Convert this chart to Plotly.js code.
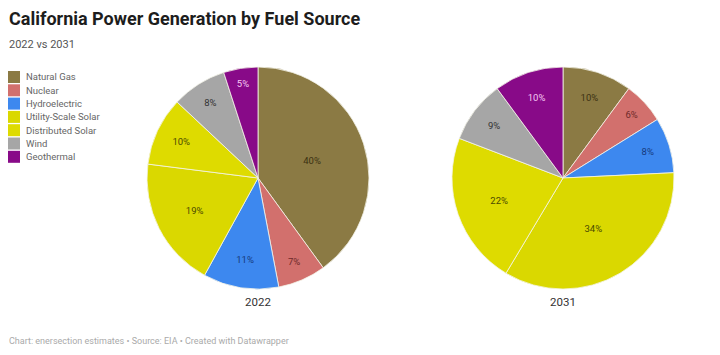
<!DOCTYPE html>
<html>
<head>
<meta charset="utf-8">
<script src="https://cdn.plot.ly/plotly-3.0.1.min.js"></script>
<style>
  html, body { margin: 0; padding: 0; background: #ffffff; }
  #chart { width: 720px; height: 355px; }
</style>
</head>
<body>
<div id="chart"></div>
<script>
// Fuel sources, in drawing order (clockwise from 12 o'clock)
const fuels = ["Natural Gas", "Nuclear", "Hydroelectric", "Utility-Scale Solar", "Distributed Solar", "Wind", "Geothermal"];
// Share of generation, percent
const share2022 = [40, 7, 11, 19, 10, 8, 5];
const share2031 = [10, 6, 8, 34, 22, 9, 10];
const years = ["2022", "2031"];

const fuelColors = ["#8b7a44", "#d2706d", "#3d88ef", "#dad800", "#dedb00", "#a6a6a6", "#880a88"];
const labelColors = ["#3b3112", "#6e2a2a", "#173a7c", "#4b4a00", "#4b4a00", "#333333", "#f4c8f2"];

const W = 720, H = 355;
const px = (x) => x / W;
const py = (y) => 1 - y / H;

// Pie geometry in pixels
const R = 111;
const centers = [[258, 178], [563, 178]];

function pieTrace(values, idx) {
  const [cx, cy] = centers[idx];
  return {
    type: "pie",
    labels: fuels,
    values: values,
    sort: false,
    direction: "clockwise",
    rotation: 0,
    marker: { colors: fuelColors, line: { color: "#f4f4e8", width: 0.8 } },
    texttemplate: "%{value}%",
    textposition: "inside",
    insidetextorientation: "horizontal",
    textfont: { family: "Roboto, sans-serif", size: 9.5, color: labelColors },
    hovertemplate: "%{label}: %{value}%<extra>" + years[idx] + "</extra>",
    showlegend: false,
    domain: { x: [px(cx - R), px(cx + R)], y: [py(cy + R), py(cy - R)] }
  };
}

const data = [pieTrace(share2022, 0), pieTrace(share2031, 1)];

// Legend built from the fuel list
const shapes = [];
const annotations = [];
const legTop = 71, legStep = 13.3, sq = 12;
fuels.forEach((f, i) => {
  const y0 = legTop + i * legStep;
  shapes.push({
    type: "rect", xref: "paper", yref: "paper",
    x0: px(8), x1: px(8 + sq), y0: py(y0), y1: py(y0 + sq),
    fillcolor: fuelColors[i], line: { width: 0 }
  });
  annotations.push({
    xref: "paper", yref: "paper", x: px(24), y: py(y0 + sq / 2),
    xanchor: "left", yanchor: "middle", showarrow: false,
    text: f, font: { family: "Roboto, sans-serif", size: 9.5, color: "#666666" }
  });
});

// Year captions under each pie
years.forEach((yr, i) => {
  annotations.push({
    xref: "paper", yref: "paper", x: px(centers[i][0]), y: py(302),
    xanchor: "center", yanchor: "middle", showarrow: false,
    text: yr, font: { family: "Roboto, sans-serif", size: 11.5, color: "#333333" }
  });
});

// Title, subtitle and footer
annotations.push({
  xref: "paper", yref: "paper", x: px(7), y: py(18),
  xanchor: "left", yanchor: "middle", showarrow: false,
  text: "<b>California Power Generation by Fuel Source</b>",
  font: { family: "Roboto, sans-serif", size: 18, color: "#1d1d1d" }
});
annotations.push({
  xref: "paper", yref: "paper", x: px(7), y: py(44),
  xanchor: "left", yanchor: "middle", showarrow: false,
  text: "2022 vs 2031",
  font: { family: "Roboto, sans-serif", size: 11, color: "#555555" }
});
annotations.push({
  xref: "paper", yref: "paper", x: px(7), y: py(341),
  xanchor: "left", yanchor: "middle", showarrow: false,
  text: "Chart: enersection estimates • Source: EIA • Created with Datawrapper",
  font: { family: "Roboto, sans-serif", size: 9, color: "#aaaaaa" }
});

const layout = {
  width: W, height: H,
  margin: { l: 0, r: 0, t: 0, b: 0 },
  paper_bgcolor: "#ffffff",
  showlegend: false,
  shapes: shapes,
  annotations: annotations
};

Plotly.newPlot("chart", data, layout, { displayModeBar: false, staticPlot: true });
</script>
</body>
</html>
